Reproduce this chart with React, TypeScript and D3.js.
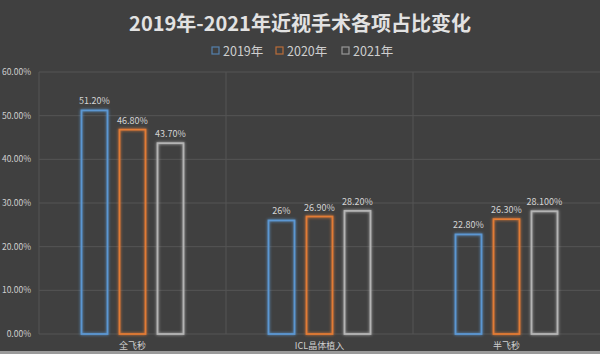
import React from 'react'
import * as d3 from 'd3'

const categories = ['全飞秒', 'ICL晶体植入', '半飞秒']
const seriesNames = ['2019年', '2020年', '2021年']
const values2019 = [51.2, 26, 22.8]
const values2020 = [46.8, 26.9, 26.3]
const values2021 = [43.7, 28.2, 28.1]
const labels2019 = ['51.20%', '26%', '22.80%']
const labels2020 = ['46.80%', '26.90%', '26.30%']
const labels2021 = ['43.70%', '28.20%', '28.100%']
const yTicks = [0, 10, 20, 30, 40, 50, 60]
const colors = ['#5b97d2', '#e27b35', '#b4b4b4']

const W = 600
const H = 354
const font = '"Noto Sans CJK SC", "Noto Sans", sans-serif'

export default function App() {
  const margin = { top: 72, right: 0, bottom: 20, left: 39 }
  const x0 = d3.scaleBand<string>().domain(categories).range([margin.left, W - margin.right])
  const inner = d3.scaleBand<string>().domain(seriesNames).range([0, 104]).paddingInner(10 / 38)
  const y = d3.scaleLinear().domain([0, 60]).range([334, 72])

  const series = [
    { name: seriesNames[0], values: values2019, labels: labels2019 },
    { name: seriesNames[1], values: values2020, labels: labels2020 },
    { name: seriesNames[2], values: values2021, labels: labels2021 },
  ]

  const groupOffset = (x0.bandwidth() - 104) / 2

  const legendX = [211, 275, 341]

  return (
    <div style={{ position: 'fixed', left: 0, top: 0 }}>
      <svg width={W} height={H} style={{ display: 'block' }}>
        <defs>
          <filter id="glow" x="-30%" y="-10%" width="160%" height="120%">
            <feGaussianBlur stdDeviation="1.6" result="b" />
            <feMerge>
              <feMergeNode in="b" />
              <feMergeNode in="SourceGraphic" />
            </feMerge>
          </filter>
        </defs>
        <rect width={W} height={H} fill="#404040" />
        <rect y={351} width={W} height={3} fill="#9a9a9a" />

        <text x={300} y={31} textAnchor="middle" fontFamily={font} fontWeight="bold" fontSize={20} fill="#e2e2e2">
          2019年-2021年近视手术各项占比变化
        </text>

        {series.map((s, i) => (
          <g key={s.name} transform={`translate(${legendX[i]},0)`}>
            <rect x={1} y={47} width={7} height={7} fill="none" stroke={colors[i]} strokeOpacity={0.75} strokeWidth={1.2} />
            <text x={12} y={55.5} fontFamily={font} fontSize={12.5} fill="#cfcfcf">{s.name}</text>
          </g>
        ))}

        {yTicks.map(t => (
          <g key={t}>
            <line x1={margin.left} x2={W} y1={y(t)} y2={y(t)} stroke="#555555" strokeWidth={1} />
            <text x={31} y={y(t) + 3} textAnchor="end" fontFamily={font} fontSize={8.5} fill="#cfcfcf">
              {t.toFixed(2)}%
            </text>
          </g>
        ))}

        {categories.map(c => (
          <line key={c} x1={x0(c)!} x2={x0(c)!} y1={72} y2={334} stroke="#555555" strokeWidth={1} />
        ))}

        {categories.map((c, ci) => (
          <g key={c} transform={`translate(${x0(c)! + groupOffset},0)`}>
            {series.map((s, si) => {
              const bx = inner(s.name)!
              const by = y(s.values[ci])
              return (
                <g key={s.name}>
                  <rect
                    x={bx + 1}
                    y={by}
                    width={inner.bandwidth() - 2}
                    height={y(0) - by}
                    fill="none"
                    stroke={colors[si]}
                    strokeWidth={1.8}
                    filter="url(#glow)"
                  />
                  <text
                    x={bx + inner.bandwidth() / 2}
                    y={by - 6}
                    textAnchor="middle"
                    fontFamily={font}
                    fontSize={9}
                    fill="#d4d4d4"
                  >
                    {s.labels[ci]}
                  </text>
                </g>
              )
            })}
          </g>
        ))}

        {categories.map(c => (
          <text
            key={c}
            x={x0(c)! + x0.bandwidth() / 2}
            y={349}
            textAnchor="middle"
            fontFamily={font}
            fontSize={9}
            fill="#cfcfcf"
          >
            {c}
          </text>
        ))}
      </svg>
    </div>
  )
}
